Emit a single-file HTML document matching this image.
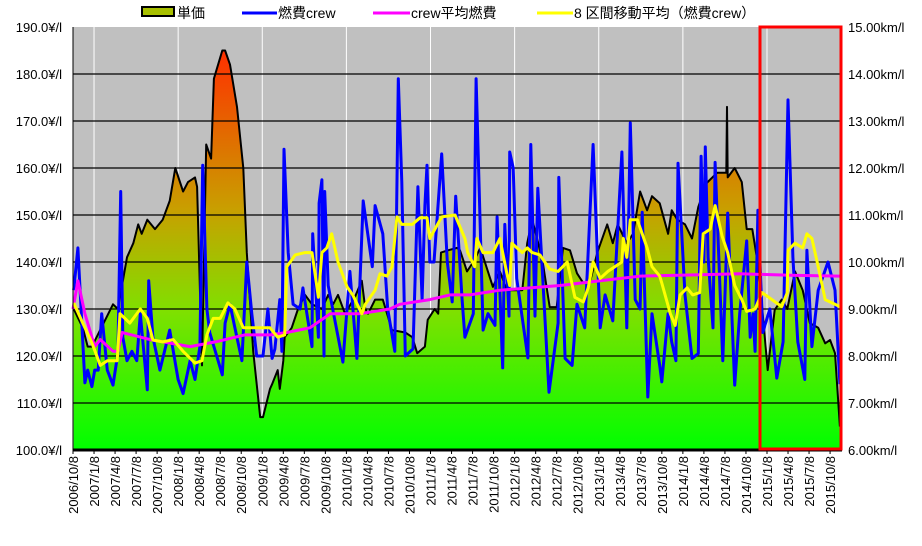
<!DOCTYPE html>
<html><head><meta charset="utf-8"><style>
html,body{margin:0;padding:0;background:#fff;}
svg{display:block;font-family:"Liberation Sans","Noto Sans CJK JP",sans-serif;}
</style></head><body>
<svg id="chart" width="922" height="546" viewBox="0 0 922 546">
<defs>
<linearGradient id="pg" gradientUnits="userSpaceOnUse" x1="0" y1="450" x2="0" y2="51">
<stop offset="0" stop-color="#00ff00"/><stop offset="0.35" stop-color="#80e000"/><stop offset="0.6" stop-color="#c8a000"/><stop offset="1" stop-color="#ff3000"/>
</linearGradient>
</defs>
<rect x="73" y="27" width="769" height="423" fill="#c0c0c0"/>
<g id="vgrid"></g><g id="area"></g><g id="hgrid"></g><g id="lines"></g><g id="axes"></g>
<g>
<rect x="142" y="7" width="32" height="9" fill="#a8c000" stroke="#000" stroke-width="2"/>
<text x="177" y="18" font-size="14">単価</text>
<line x1="242" y1="13" x2="277" y2="13" stroke="#0000ff" stroke-width="3"/>
<text x="278" y="18" font-size="14">燃費crew</text>
<line x1="373" y1="13" x2="410" y2="13" stroke="#ff00ff" stroke-width="3"/>
<text x="411" y="18" font-size="14">crew平均燃費</text>
<line x1="537" y1="13" x2="573" y2="13" stroke="#ffff00" stroke-width="3"/>
<text x="574" y="18" font-size="14">8 区間移動平均（燃費crew）</text>
</g>
<rect x="760" y="27" width="81" height="422" fill="none" stroke="#ff0000" stroke-width="3"/>
</svg>
<script>
const priceT=[0.1,1.4,2.1,2.7,5.7,6.4,7.7,8.6,9.3,9.8,10.6,11.7,12.8,13.8,14.6,15.7,16.4,17.4,17.7,18.4,19.0,19.7,20.1,21.3,21.7,22.4,23.4,24.3,24.8,25.7,26.7,27.1,28.1,28.4,29.2,29.5,30.0,30.2,31.2,32.1,33.1,34.1,35.5,36.4,37.1,37.8,38.8,40.2,41.2,41.7,42.1,43.1,44.2,45.5,47.4,48.4,49.1,50.2,50.6,51.6,52.1,52.5,53.5,54.8,55.2,56.2,57.1,58.1,59.9,60.9,61.9,64.1,64.8,65.5,66.2,67.0,68.0,69.0,69.9,70.9,71.9,72.8,73.8,74.8,76.2,77.0,77.7,79.0,79.9,80.9,81.9,82.6,83.7,84.9,85.4,86.2,87.3,88.3,89.2,90.4,91.9,93.2,93.3,93.4,94.4,95.4,96.1,96.9,97.6,98.3,99.1,100.1,101.1,101.9,103.0,104.1,105.1,106.3,107.3,108.0,108.7,109.4];
const priceV=[130,126,122,122,131,130,141,144,148,146,149,147,149,153,160,155,157,158,156,118,165,162,179,185,185,182,173,160,142,121,107,107,113,114,117,113,119,124,126,130,133,131,130,133,131,133,129,132.5,136,130,129,132,132,125.5,125,124,120.6,122,127.7,130,129,142,142.5,143,142.5,138,140,143,134.7,138,134,134,144,149,145,140,130.4,130.4,143,142.5,137.6,135.5,136,142,148,144,148,144,146,155,151,154,152.5,146,151,149,148,145,151.7,156.8,159,159,173,158,160,157,147,147,140.4,130.4,117,129.8,132,130,138,134,127,126,122.7,123.4,120.6,105];
const fuelT=[0.1,0.7,1.7,2.1,2.7,3.1,3.6,4.1,4.9,5.7,6.4,6.8,7.1,7.7,8.4,9.1,9.6,10.6,10.8,11.4,12.4,13.8,15.0,15.7,16.7,17.4,18.1,18.5,19.1,19.5,20.5,21.3,21.7,22.4,23.1,24.1,24.8,25.5,26.2,27.1,27.8,28.4,28.8,29.5,29.8,30.1,30.7,31.4,32.4,32.8,34.1,34.2,35.0,35.1,35.5,35.8,35.9,36.4,38.5,39.5,40.5,41.4,42.7,43.1,44.2,44.9,45.9,46.4,46.9,47.4,48.5,49.2,49.8,50.2,50.5,50.9,51.5,52.6,53.4,54.1,54.6,55.5,55.9,57.1,57.5,58.5,59.2,60.2,60.5,61.3,61.6,62.2,62.3,62.8,63.3,64.9,65.3,65.9,66.3,67.9,69.2,69.3,70.2,71.2,71.9,73.0,74.2,75.2,75.9,77.0,78.3,79.0,79.5,80.2,80.9,81.2,82.0,82.6,83.7,84.0,84.9,85.4,86.0,86.3,87.3,88.3,89.2,89.6,90.0,90.2,90.6,91.3,91.6,92.7,93.4,94.4,95.1,96.1,96.6,97.0,97.3,97.7,98.4,99.4,100.4,101.3,102.0,102.7,103.4,104.4,104.7,105.4,106.3,107.7,108.7,109.4];
const fuelV=[9.4,10.3,7.43,7.7,7.35,7.7,7.7,8.9,7.7,7.38,8.06,11.5,8.4,7.9,8.1,7.9,8.9,7.28,9.6,8.4,7.7,8.55,7.5,7.2,7.9,7.5,8.2,12.06,9.0,8.5,8.0,7.6,8.7,9.1,8.6,7.9,10.0,8.9,8.0,8.0,9.0,7.95,8.15,9.2,8.1,12.4,10.2,9.1,9.0,9.45,8.2,10.6,8.4,11.25,11.75,8.0,11.5,9.5,7.87,9.8,7.95,11.3,9.9,11.2,10.6,9.0,8.1,13.9,11.7,8.0,8.15,11.6,9.2,11.2,12.06,10.0,10.0,12.3,10.0,9.15,11.4,9.2,8.4,8.9,13.9,8.55,8.9,8.65,10.96,7.75,10.8,8.85,12.34,12.0,9.65,7.96,12.5,8.85,11.57,7.23,8.7,11.8,7.95,7.8,9.1,8.6,12.5,8.6,9.3,8.75,12.34,8.6,12.96,9.2,9.0,11.06,7.13,8.9,7.8,7.45,8.9,8.3,7.9,12.1,9.3,7.95,8.05,12.25,10.0,12.45,10.1,8.6,12.12,7.9,11.04,7.38,8.9,10.45,8.4,8.9,8.1,11.1,8.5,9.0,7.53,8.3,13.45,10.1,8.3,7.5,10.25,8.2,9.4,10.0,9.4,7.4];
const maT=[0.1,1.4,2.7,3.9,4.9,6.3,6.7,8.1,9.6,10.6,11.4,12.8,14.3,15.7,17.4,18.4,19.1,20.0,21.0,22.1,23.1,24.3,25.5,26.7,28.1,29.2,30.2,30.5,31.7,33.1,34.1,35.0,35.5,36.2,36.9,37.8,39.1,39.9,41.2,41.7,43.1,43.8,44.8,45.5,46.2,46.9,48.4,49.5,50.5,50.9,52.6,54.5,55.9,56.3,57.3,57.6,58.5,59.9,60.9,61.9,62.3,62.6,64.1,64.8,65.5,66.6,68.0,69.2,70.5,71.6,72.8,73.5,74.2,75.2,76.3,78.3,78.5,79.0,79.5,80.5,81.9,82.6,83.7,84.0,85.2,85.9,86.6,87.6,88.4,89.4,89.9,90.9,91.6,92.6,93.4,94.4,95.4,96.1,97.3,98.3,99.7,101.1,101.9,102.0,103.0,104.1,104.7,105.4,106.3,107.3,109.4];
const maV=[9.13,8.7,8.28,7.8,7.9,7.9,8.9,8.7,9.0,8.8,8.34,8.3,8.35,8.1,7.85,7.9,8.45,8.8,8.8,9.13,9.0,8.6,8.6,8.6,8.6,8.4,8.45,9.9,10.15,10.2,10.2,9.25,10.2,10.3,10.6,10.0,9.47,9.3,8.9,9.1,9.4,9.75,9.7,9.9,10.96,10.8,10.8,10.94,10.94,10.5,10.96,11.0,10.5,10.2,9.9,10.5,10.2,10.2,10.5,9.75,9.5,10.4,10.2,10.3,10.2,10.15,9.85,9.8,10.0,9.25,9.15,9.45,10.0,9.65,9.8,10.0,10.5,10.1,10.9,10.9,10.3,9.9,9.7,9.55,8.9,8.65,9.3,9.45,9.3,9.35,10.6,10.7,11.2,10.55,10.2,9.5,9.2,8.95,9.0,9.35,9.2,9.05,9.35,10.25,10.4,10.3,10.6,10.5,9.9,9.2,9.05];
const avgT=[0,0.7,1.7,2.7,3.1,3.9,5.7,6.4,7.0,11.0,16.7,20.3,24.5,28.1,30.5,33.8,36.7,40.9,45.2,46.6,50.9,53.8,56.6,60.9,65.2,69.5,75.2,80.9,89.4,95.1,102.3,109.4];
const avgV=[9.0,9.6,8.9,8.4,8.2,8.35,8.1,8.1,8.5,8.35,8.2,8.3,8.45,8.45,8.5,8.6,8.9,8.9,9.0,9.1,9.2,9.3,9.3,9.4,9.45,9.5,9.6,9.7,9.73,9.75,9.72,9.7];
const leftTicks=[100,110,120,130,140,150,160,170,180,190];
const rightTicks=[6,7,8,9,10,11,12,13,14,15];
const months=["1","4","7","10"];

const NS="http://www.w3.org/2000/svg";
const X0=73,X1=842,Y0=450,Y1=27,PX=7.01;
const xs=t=>X0+t*PX;
const yL=v=>Y0-(v-100)/90*(Y0-Y1);
const yR=v=>Y0-(v-6)/9*(Y0-Y1);
function mk(tag,attrs,parent){const e=document.createElementNS(NS,tag);for(const k in attrs)e.setAttribute(k,attrs[k]);parent.appendChild(e);return e;}
const $=id=>document.getElementById(id);

// vertical grid (January lines)
for(let t=3;t<=110;t+=12){
  const l=mk('line',{x1:xs(t),x2:xs(t),y1:Y1,y2:Y0,stroke:'#ffffff','stroke-width':1},$('vgrid'));
  
  
}
// price area
let d='M'+xs(priceT[0])+','+Y0;
priceT.forEach((t,i)=>{d+=' L'+xs(t).toFixed(1)+','+yL(priceV[i]).toFixed(1);});
d+=' L'+xs(priceT[priceT.length-1])+','+Y0+' Z';
const a=mk('path',{d:d,fill:'url(#pg)'},$('area'));


// horizontal grid
leftTicks.slice(1,-1).forEach(v=>{
  const l=mk('line',{x1:X0,x2:X1,y1:yL(v),y2:yL(v),stroke:'#000','stroke-width':1.3},$('hgrid'));
  
  
});
function poly(T,V,sc,color,w,name){
  const pts=T.map((t,i)=>xs(t).toFixed(1)+','+sc(V[i]).toFixed(1)).join(' ');
  const p=mk('polyline',{points:pts,fill:'none',stroke:color,'stroke-width':w,'stroke-linejoin':'round'},$('lines'));
  
  
}
poly(priceT,priceV,yL,'#000000',2,'price-line');
poly(fuelT,fuelV,yR,'#0000ff',3,'fuel-line');
poly(avgT,avgV,yR,'#ff00ff',3,'avg-fuel-line');
poly(maT,maV,yR,'#ffff00',3,'moving-average-line');

// axes
const ax=$('axes');
const bl=mk('line',{x1:X0,x2:X1,y1:Y0,y2:Y0,stroke:'#000','stroke-width':3},ax);


const ll=mk('line',{x1:X0,x2:X0,y1:Y1,y2:Y0,stroke:'#000','stroke-width':1},ax);


leftTicks.forEach(v=>{
  const tx=mk('text',{x:62,y:yL(v)+5,'text-anchor':'end','font-size':13},ax);
  tx.textContent=v.toFixed(1)+'¥/l';
  
  
});
rightTicks.forEach(v=>{
  const tx=mk('text',{x:848,y:yR(v)+5,'font-size':13},ax);
  tx.textContent=v.toFixed(2)+'km/l';
  
  
});
for(let i=0;i<=36;i++){
  const t=i*3, yr=2006+Math.floor((i+3)/4), m=months[(i+3)%4];
  const x=xs(t);
  const tk=mk('line',{x1:x,x2:x,y1:Y0,y2:Y0+4,stroke:'#000','stroke-width':1},ax);
  
  
  const tx=mk('text',{x:0,y:0,'text-anchor':'end','font-size':13,transform:'translate('+(x+5)+','+(Y0+6)+') rotate(-90)'},ax);
  tx.textContent=yr+'/'+m+'/8';
  
  
}
</script>
</body></html>
